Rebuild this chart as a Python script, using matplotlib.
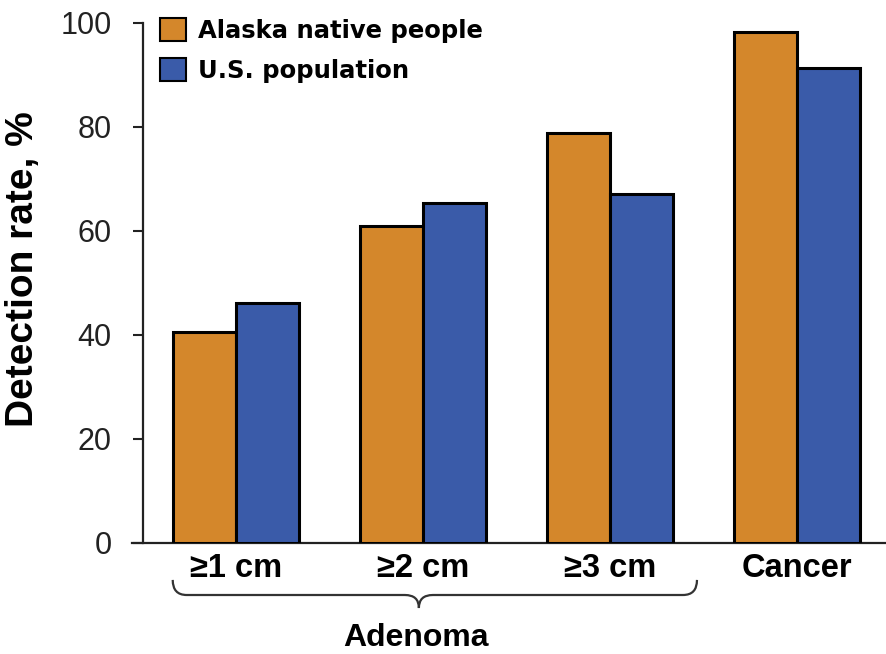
import matplotlib
matplotlib.use("Agg")
import matplotlib.pyplot as plt
from matplotlib.path import Path
from matplotlib.patches import PathPatch
import matplotlib.transforms as mtransforms
import numpy as np

plt.rcParams['font.family'] = ['Liberation Sans', 'DejaVu Sans']

categories = ["\u22651 cm", "\u22652 cm", "\u22653 cm", "Cancer"]
alaska = [40.5, 61.0, 78.9, 98.3]
us_pop = [46.2, 65.3, 67.1, 91.3]
series_names = ["Alaska native people", "U.S. population"]
yticks = [0, 20, 40, 60, 80, 100]
group_label = "Adenoma"

orange = "#D4872B"
blue = "#3A5BA9"
dark = "#222222"

fig = plt.figure(figsize=(8.86, 6.54), dpi=100)
ax = fig.add_axes([132/886, 111/654, 754/886, 520/654])

x = np.arange(len(categories))
w = 0.3375
ax.bar(x - w/2, alaska, w, color=orange, edgecolor="black", linewidth=2.2,
       label=series_names[0], zorder=3)
ax.bar(x + w/2, us_pop, w, color=blue, edgecolor="black", linewidth=2.2,
       label=series_names[1], zorder=3)

ax.set_xlim(-0.559, 3.478)
ax.set_ylim(0, 100)
ax.set_yticks(yticks)
ax.set_yticklabels([str(t) for t in yticks])
ax.set_xticks(x)
ax.set_xticklabels(categories, fontweight='bold', color='black')
ax.tick_params(axis='x', length=0, pad=7, labelsize=23.5)
ax.tick_params(axis='y', length=7.5, width=1.5, color=dark, pad=15,
               direction='out', labelsize=22, labelcolor=dark)

for s in ['top', 'right']:
    ax.spines[s].set_visible(False)
ax.spines['left'].set_position(('data', -0.5))
ax.spines['left'].set_linewidth(1.6)
ax.spines['left'].set_color(dark)
ax.spines['bottom'].set_linewidth(1.6)
ax.spines['bottom'].set_color(dark)

ax.set_ylabel("Detection rate, %", fontsize=28, fontweight='bold', va='center')
ax.yaxis.set_label_coords(-0.144, 0.527)

# Brace under adenoma groups
trans = mtransforms.blended_transform_factory(ax.transData, ax.transAxes)
x0, xc, x1 = -0.341, 0.977, 2.466
ytop, yline, ytip = -0.071, -0.100, -0.125
dx = 0.075
verts = [
    (x0, ytop), (x0, yline), (x0 + dx, yline),
    (xc - dx, yline),
    (xc, yline), (xc, ytip),
    (xc, yline), (xc + dx, yline),
    (x1 - dx, yline),
    (x1, yline), (x1, ytop),
]
codes = [Path.MOVETO, Path.CURVE3, Path.CURVE3, Path.LINETO,
         Path.CURVE3, Path.CURVE3, Path.CURVE3, Path.CURVE3,
         Path.LINETO, Path.CURVE3, Path.CURVE3]
brace = PathPatch(Path(verts, codes), transform=trans, fill=False,
                  edgecolor="#333333", linewidth=1.6, clip_on=False)
ax.add_patch(brace)
ax.text(0.962, -0.182, group_label, transform=trans, ha='center', va='center',
        fontsize=23, fontweight='bold', color='black')

leg = ax.legend(loc='upper left', bbox_to_anchor=(160/886, 1 - 18/654),
                bbox_transform=fig.transFigure, frameon=False,
                prop={'family': 'DejaVu Sans', 'weight': 'bold', 'size': 17.5},
                handlelength=1.08, handleheight=1.08, handletextpad=0.5,
                labelspacing=0.62, borderpad=0, borderaxespad=0)
for h in leg.legend_handles:
    h.set_linewidth(1.5)

fig.savefig("out.png", dpi=100, facecolor='white')
